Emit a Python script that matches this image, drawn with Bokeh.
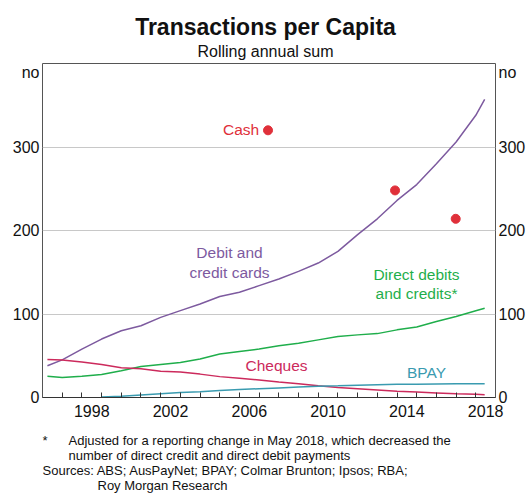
from bokeh.plotting import figure
from bokeh.layouts import column
from bokeh.models import FixedTicker, LinearAxis, Label, Range1d
from bokeh.embed import file_html
from bokeh.resources import INLINE

# ---- data ----
years = [1996.25, 1997, 1998, 1999, 2000, 2001, 2002, 2003, 2004, 2005, 2006, 2007,
         2008, 2009, 2010, 2011, 2012, 2013, 2014, 2015, 2016, 2017, 2018, 2018.45]
cards = [38, 45, 58, 70, 80, 86, 96, 104, 112, 121, 126, 134,
         142, 151, 161, 175, 195, 214, 236, 255, 280, 306, 338, 357]
direct = [25.5, 24, 25.5, 27.5, 32, 37, 39.5, 42, 46, 52, 55, 58,
          62, 65, 69, 73, 75, 76.5, 81, 84.5, 91, 97, 104, 107]
cheques = [45.5, 45, 42.5, 39.5, 35.5, 34.5, 31.5, 30.5, 28, 25, 23, 21,
           18.5, 16.5, 14, 12, 10.5, 9, 7.5, 6.5, 5.5, 4.5, 3.8, 3.3]
bpay_years = [1999, 2000, 2001, 2002, 2003, 2004, 2005, 2006, 2007, 2008, 2009, 2010,
              2011, 2012, 2013, 2014, 2015, 2016, 2017, 2018, 2018.45]
bpay = [0.5, 1.5, 3, 4.5, 6, 7, 8.5, 9.5, 10.5, 11.5, 12.5, 13.5,
        14, 14.8, 15.3, 15.8, 16, 16.2, 16.4, 16.5, 16.5]
cash_years = [2007.45, 2013.9, 2016.98]
cash = [320, 248, 214]

x_labels = ["1998", "2002", "2006", "2010", "2014", "2018"]
y_ticks = [0, 100, 200, 300]
unit_label = "no"

FONT = "Liberation Sans"
INK = "#111111"
PURPLE = "#7d5a9f"
GREEN = "#1fae4b"
CHEQUE = "#cc2a5c"
TEAL = "#3a9bb0"
RED = "#e0303a"

W = 528
TOP_H = 60
MAIN_H = 367
FOOT_H = 500 - TOP_H - MAIN_H
BL, BR = 42, 33  # left / right borders of the plot frame


def text_panel(h, y0):
    f = figure(width=W, height=h, output_backend="svg", toolbar_location=None,
               x_range=Range1d(BL, W - BR), y_range=Range1d(y0 + h, y0),
               min_border_left=BL, min_border_right=BR, min_border_top=0,
               min_border_bottom=0, x_axis_location=None, y_axis_location=None)
    f.outline_line_color = None
    f.xgrid.visible = False
    f.ygrid.visible = False
    return f


def lab(fig, x, y, text, color=INK, size="15.5px", align="center", units="data",
        style="normal", baseline="middle"):
    fig.add_layout(Label(x=x, y=y, x_units=units, y_units=units, text=text,
                         text_color=color, text_font=FONT, text_font_size=size,
                         text_align=align, text_baseline=baseline, text_font_style=style))


# ---- title panel ----
top = text_panel(TOP_H, 0)
lab(top, 265, 26, "Transactions per Capita", size="23px", style="bold")
lab(top, 265, 51, "Rolling annual sum", size="16px")

# ---- main chart ----
p = figure(width=W, height=MAIN_H, output_backend="svg", toolbar_location=None,
           x_range=Range1d(1996, 2019), y_range=Range1d(0, 400),
           min_border_left=BL, min_border_right=BR, min_border_top=3, min_border_bottom=30,
           y_axis_location=None, x_axis_location=None)
p.outline_line_color = "#555555"
p.outline_line_width = 1
p.xgrid.visible = False
p.ygrid.ticker = FixedTicker(ticks=[100, 200, 300])
p.ygrid.grid_line_color = "#c8c8c8"
p.ygrid.grid_line_width = 1

label_pos = [int(s) + 0.5 for s in x_labels]
xaxis = LinearAxis(ticker=FixedTicker(ticks=label_pos, minor_ticks=list(range(1997, 2019))))
xaxis.major_label_overrides = {pos: s for pos, s in zip(label_pos, x_labels)}
xaxis.major_tick_in = 0
xaxis.major_tick_out = 0
xaxis.minor_tick_in = 5
xaxis.minor_tick_out = 0
xaxis.minor_tick_line_color = "#333333"
xaxis.axis_line_color = "#333333"
xaxis.major_label_text_font = FONT
xaxis.major_label_text_font_size = "16px"
xaxis.major_label_text_color = INK
xaxis.major_label_standoff = 7
p.add_layout(xaxis, "below")

unit_pos = 389
for side in ("left", "right"):
    ax = LinearAxis(ticker=FixedTicker(ticks=y_ticks + [unit_pos]))
    ax.major_label_overrides = {unit_pos: unit_label}
    ax.major_tick_in = 0
    ax.major_tick_out = 0
    ax.minor_tick_in = 0
    ax.minor_tick_out = 0
    ax.axis_line_color = None
    ax.major_label_text_font = FONT
    ax.major_label_text_font_size = "16px"
    ax.major_label_text_color = INK
    ax.major_label_standoff = 3
    p.add_layout(ax, side)

p.line(years, cards, line_color=PURPLE, line_width=1.5)
p.line(years, direct, line_color=GREEN, line_width=1.5)
p.line(years, cheques, line_color=CHEQUE, line_width=1.5)
p.line(bpay_years, bpay, line_color=TEAL, line_width=1.5)
p.scatter(cash_years, cash, size=9, fill_color=RED, line_color=RED)

# series labels (screen offsets relative to frame bottom-left)
FX, FY = 42, 397.5
lab(p, 2007.0, 321, "Cash", RED, align="right")
lab(p, 229 - FX, FY - 252, "Debit and", PURPLE, units="screen")
lab(p, 229 - FX, FY - 272, "credit cards", PURPLE, units="screen")
lab(p, 416 - FX, FY - 274, "Direct debits", GREEN, units="screen")
lab(p, 416 - FX, FY - 293, "and credits*", GREEN, units="screen")
lab(p, 276 - FX, FY - 365, "Cheques", CHEQUE, units="screen")
lab(p, 426 - FX, FY - 372, "BPAY", TEAL, units="screen")

# ---- footnote panel ----
y0 = TOP_H + MAIN_H
foot = text_panel(FOOT_H, y0)
lab(foot, 42, 440, "*", size="13px", align="left")
lab(foot, 68, 440, "Adjusted for a reporting change in May 2018, which decreased the",
    size="13px", align="left")
lab(foot, 68, 455, "number of direct credit and direct debit payments", size="13px", align="left")
lab(foot, 42, 470, "Sources: ABS; AusPayNet; BPAY; Colmar Brunton; Ipsos; RBA;",
    size="13px", align="left")
lab(foot, 97, 485, "Roy Morgan Research", size="13px", align="left")

layout = column(top, p, foot, spacing=0)
open("out.html", "w").write(file_html(layout, INLINE))
